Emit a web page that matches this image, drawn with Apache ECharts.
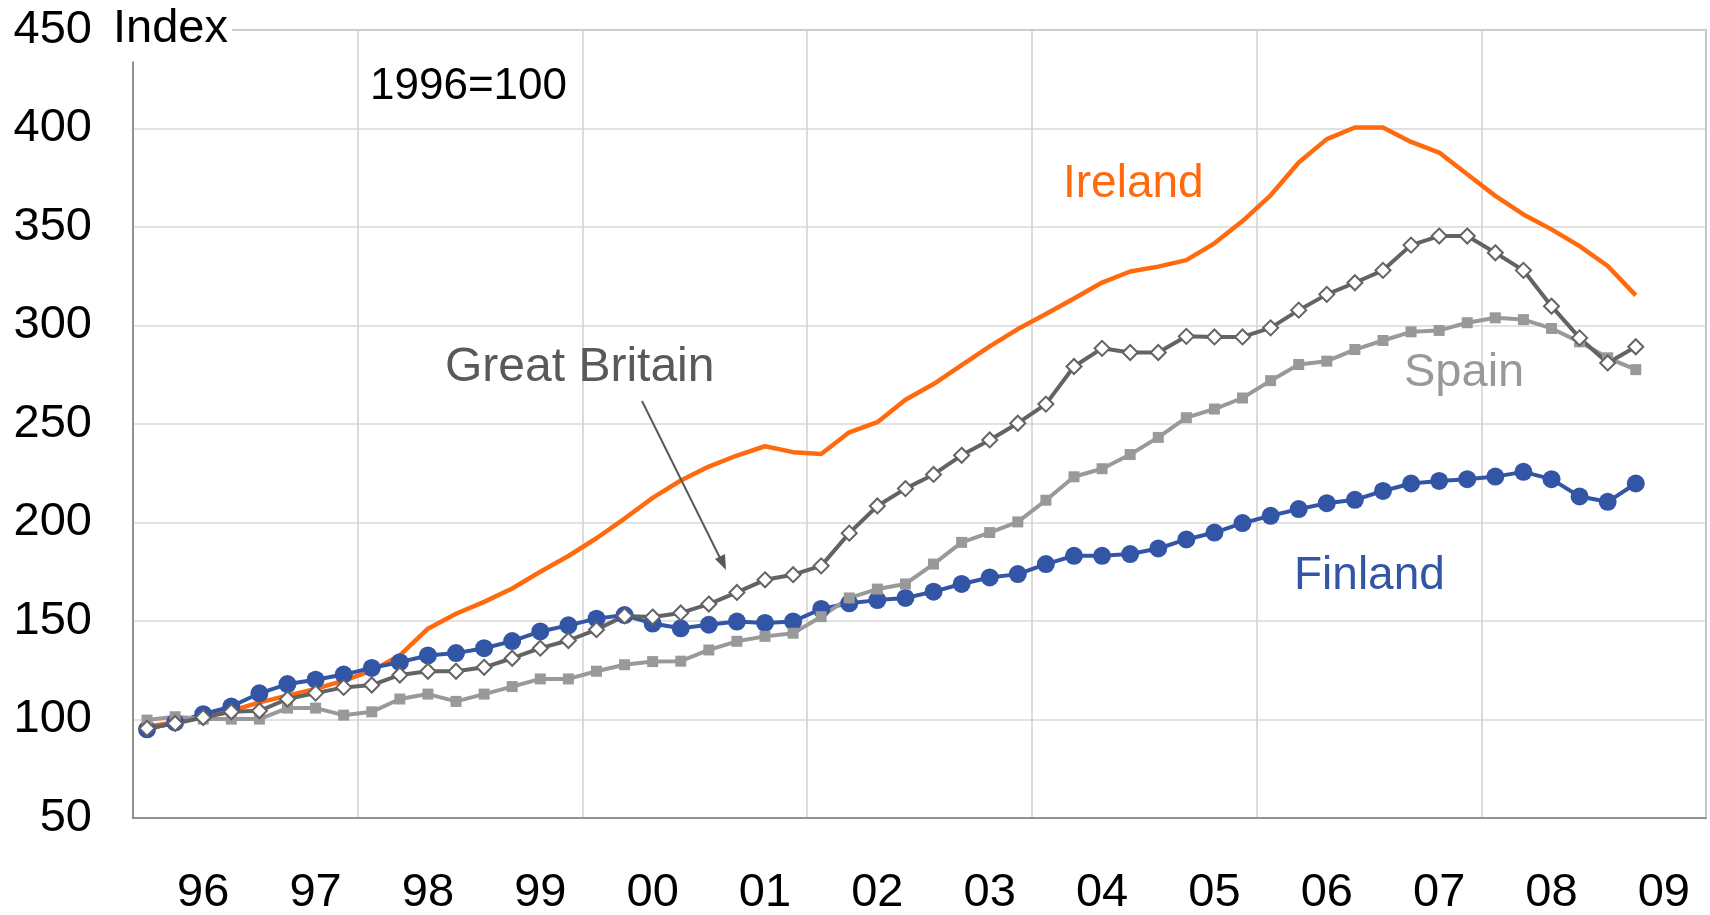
<!DOCTYPE html>
<html>

<head>
    <meta charset="UTF-8">
    <title>House prices 1996=100</title>
    <script src="https://cdn.jsdelivr.net/npm/echarts@6/dist/echarts.min.js"></script>
    <style>
        body { margin: 0; background: #fff; }
        #main { width: 1710px; height: 915px; }
    </style>
</head>

<body>
    <div id='main'></div>
    <script>
        var years = ['96', '97', '98', '99', '00', '01', '02', '03', '04', '05', '06', '07', '08', '09'];

        // quarterly index values, 96Q1 .. 09Q2
        var ireland = [
            96.5, 98.5, 101.9, 104.4, 108.7, 112.1, 115.5, 119.7,
            124.8, 132.5, 146.1, 153.7, 159.7, 166.5, 175.0, 183.0,
            192.0, 202.0, 212.5, 221.3, 228.4, 234.0, 238.7, 235.7,
            234.8, 245.8, 250.9, 262.3, 270.3, 279.9, 289.4, 298.2,
            305.8, 313.7, 321.8, 327.4, 329.9, 333.2, 341.7, 353.0,
            366.1, 382.7, 394.6, 400.5, 400.5, 393.2, 387.8, 376.8,
            365.8, 356.4, 348.8, 340.3, 330.2, 315.3
        ];
        var greatBritain = [
            95.5, 98.0, 101.0, 103.9, 104.4, 110.4, 113.4, 116.3,
            117.5, 122.6, 124.5, 124.5, 126.5, 131.1, 136.2, 140.1,
            145.6, 152.6, 152.0, 154.1, 158.6, 164.5, 170.9, 173.5,
            178.0, 194.6, 208.4, 217.2, 224.4, 234.1, 241.9, 250.4,
            260.1, 279.2, 288.4, 286.3, 286.3, 294.5, 294.2, 294.2,
            298.8, 307.8, 315.8, 321.7, 328.0, 340.8, 345.4, 345.4,
            336.9, 328.0, 309.8, 293.7, 281.0, 289.2
        ];
        var spain = [
            99.7, 101.4, 100.2, 100.2, 100.2, 105.8, 105.8, 102.2,
            103.9, 110.4, 112.9, 109.2, 112.9, 116.7, 120.6, 120.6,
            124.5, 127.8, 129.4, 129.6, 135.3, 139.7, 142.2, 143.8,
            152.2, 161.7, 166.2, 168.8, 178.9, 189.9, 194.9, 200.3,
            211.3, 223.2, 227.3, 234.5, 243.2, 253.2, 257.6, 263.2,
            272.0, 280.2, 281.9, 287.8, 292.4, 296.8, 297.5, 301.4,
            303.9, 303.0, 298.5, 291.7, 283.6, 277.6
        ];
        var finland = [
            95.0, 98.5, 102.7, 106.6, 113.3, 118.0, 120.2, 122.8,
            126.2, 129.1, 132.5, 133.7, 136.2, 139.8, 144.7, 147.8,
            151.2, 153.0, 148.7, 146.3, 148.1, 149.7, 149.0, 149.8,
            156.1, 159.0, 160.6, 161.7, 164.9, 168.8, 172.1, 173.8,
            178.9, 183.1, 183.1, 184.0, 186.8, 191.4, 194.9, 199.7,
            203.4, 206.8, 209.8, 211.5, 216.0, 219.8, 221.1, 222.0,
            223.3, 225.7, 222.0, 213.2, 210.5, 219.8
        ];

        var quarters = [];
        years.forEach(function (y) {
            ['Q1', 'Q2', 'Q3', 'Q4'].forEach(function (q) { quarters.push(y + q); });
        });

        var FONT = 'Arial, "Liberation Sans", sans-serif';
        var ORANGE = '#FF6A0E', DARK = '#636363', LIGHT = '#999999', BLUE = '#3355A6';

        function label(text, x, y, color, size) {
            return {
                type: 'text', x: x, y: y, z: 100,
                style: {
                    text: text, fill: color, font: (size || 47) + 'px ' + FONT,
                    textAlign: 'left', textVerticalAlign: 'middle'
                }
            };
        }

        var chart = echarts.init(document.getElementById('main'));
        var option = {
            animation: false,
            grid: {
                left: 133, right: 4, top: 30, bottom: 97,
                show: true, borderColor: '#8a8a8a', borderWidth: 1.5,
                outerBoundsMode: 'none'
            },
            xAxis: {
                type: 'category',
                data: quarters,
                boundaryGap: true,
                axisLine: { lineStyle: { color: '#7f7f7f', width: 1.5 } },
                axisTick: { show: false },
                axisLabel: {
                    interval: function (i) { return i % 4 === 2; },
                    formatter: function (v) { return v.slice(0, 2); },
                    fontSize: 47, fontFamily: FONT, color: '#000', margin: 52
                },
                splitLine: {
                    show: true,
                    interval: function (i) { return i % 8 === 0; },
                    lineStyle: { color: '#d0d0d0', width: 1.5 }
                }
            },
            yAxis: {
                type: 'value',
                min: 50, max: 450, interval: 50,
                axisLine: { show: true, lineStyle: { color: '#7f7f7f', width: 1.5 } },
                axisTick: { show: false },
                axisLabel: { fontSize: 47, fontFamily: FONT, color: '#000', margin: 41 },
                splitLine: { lineStyle: { color: '#d9d9d9', width: 1.5 } }
            },
            series: [
                {
                    name: 'Ireland', type: 'line', data: ireland,
                    showSymbol: false, symbol: 'none',
                    lineStyle: { color: ORANGE, width: 4.5 }, itemStyle: { color: ORANGE }
                },
                {
                    name: 'Finland', type: 'line', data: finland,
                    symbol: 'circle', symbolSize: 18,
                    lineStyle: { color: BLUE, width: 4 }, itemStyle: { color: BLUE }
                },
                {
                    name: 'Spain', type: 'line', data: spain,
                    symbol: 'rect', symbolSize: 11,
                    lineStyle: { color: LIGHT, width: 4 }, itemStyle: { color: LIGHT }
                },
                {
                    name: 'Great Britain', type: 'line', data: greatBritain,
                    symbol: 'diamond', symbolSize: 15,
                    lineStyle: { color: DARK, width: 4 },
                    itemStyle: { color: '#fff', borderColor: DARK, borderWidth: 2 }
                }
            ],
            graphic: [
                {
                    type: 'text', x: 107, y: 29, z: 100,
                    style: {
                        text: 'Index', fill: '#000', font: '47px ' + FONT,
                        textVerticalAlign: 'middle', backgroundColor: '#fff',
                        padding: [8, 4, 10, 6]
                    }
                },
                label('1996=100', 370, 87, '#000', 44),
                label('Ireland', 1063, 184, ORANGE, 46),
                label('Great Britain', 445, 368, '#595959', 48),
                label('Spain', 1404, 373, LIGHT, 47),
                label('Finland', 1294, 576, BLUE, 46),
                {
                    type: 'line', z: 100,
                    shape: { x1: 642, y1: 401, x2: 722, y2: 562 },
                    style: { stroke: '#595959', lineWidth: 2 }
                },
                {
                    type: 'polygon', z: 100,
                    shape: { points: [[726, 570], [715, 559], [725, 554]] },
                    style: { fill: '#595959' }
                }
            ]
        };
        chart.setOption(option);
    </script>
</body>

</html>
